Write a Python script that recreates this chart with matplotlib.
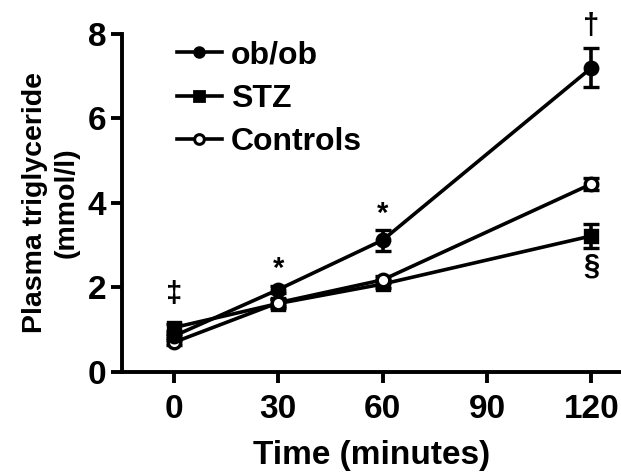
import matplotlib
matplotlib.use("Agg")
import matplotlib.pyplot as plt
from matplotlib.lines import Line2D

plt.rcParams['font.family'] = ['Liberation Sans', 'DejaVu Sans']
plt.rcParams['font.weight'] = 'bold'

time = [0, 30, 60, 120]
obob = [0.85, 1.95, 3.12, 7.2]
obob_err = [0.05, 0.08, 0.25, 0.46]
stz = [1.05, 1.62, 2.08, 3.22]
stz_err = [0.08, 0.1, 0.1, 0.28]
ctrl = [0.7, 1.64, 2.18, 4.45]
ctrl_err = [0.06, 0.08, 0.08, 0.15]
xticks = [0, 30, 60, 90, 120]
yticks = [0, 2, 4, 6, 8]

ann_x = [0, 30, 60, 120, 120]
ann_y = [1.85, 2.45, 3.75, 8.2, 2.52]
ann_txt = ['‡', '*', '*', '†', '§']

fig = plt.figure(figsize=(6.21, 4.72), dpi=100)
ax = fig.add_axes([0.196, 0.212, 0.804, 0.716])

lw = 2.6
common = dict(color='black', lw=lw, elinewidth=lw, capsize=6, capthick=lw, markeredgewidth=2.4)
ax.errorbar(time, stz, yerr=stz_err, marker='s', ms=8.5, zorder=3, **common)
ax.errorbar(time, ctrl, yerr=ctrl_err, marker='o', ms=9, mfc='white', mec='black', zorder=4, **common)
ax.errorbar(time, obob, yerr=obob_err, marker='o', ms=9, zorder=5, **common)

for x, y, t in zip(ann_x, ann_y, ann_txt):
    ax.text(x, y, t, ha='center', va='center', fontsize=21, fontweight='bold', clip_on=False,
            family=['Liberation Sans', 'DejaVu Sans'])

ax.set_xlim(-15, 128.5)
ax.set_ylim(0, 8)
ax.set_xticks(xticks)
ax.set_yticks(yticks)
ax.tick_params(axis='both', labelsize=24, width=2.8, length=8, direction='out')
ax.tick_params(axis='x', pad=8)
ax.tick_params(axis='y', pad=3)
for lab in ax.get_xticklabels() + ax.get_yticklabels():
    lab.set_fontweight('bold')
ax.spines['top'].set_visible(False)
ax.spines['right'].set_visible(False)
ax.spines['left'].set_linewidth(2.8)
ax.spines['bottom'].set_linewidth(2.8)

ax.set_xlabel('Time (minutes)', fontsize=24, fontweight='bold', labelpad=11)
ax.set_ylabel('Plasma triglyceride\n(mmol/l)', fontsize=20.5, fontweight='bold', linespacing=1.3)
ax.yaxis.set_label_coords(-0.084, 0.5)

h_ob = Line2D([], [], color='black', lw=lw, marker='o', ms=7, mew=2)
h_stz = Line2D([], [], color='black', lw=lw, marker='s', ms=7, mew=2)
h_ct = Line2D([], [], color='black', lw=lw, marker='o', ms=7, mfc='white', mew=2.2)
leg = ax.legend([h_ob, h_stz, h_ct], ['ob/ob', 'STZ', 'Controls'],
                loc='upper left', bbox_to_anchor=(0.085, 1.02), frameon=False,
                fontsize=23, handlelength=1.4, handletextpad=0.3, labelspacing=0.43,
                borderaxespad=0.0)
for t in leg.get_texts():
    t.set_fontweight('bold')

fig.savefig('out.png', dpi=100)
